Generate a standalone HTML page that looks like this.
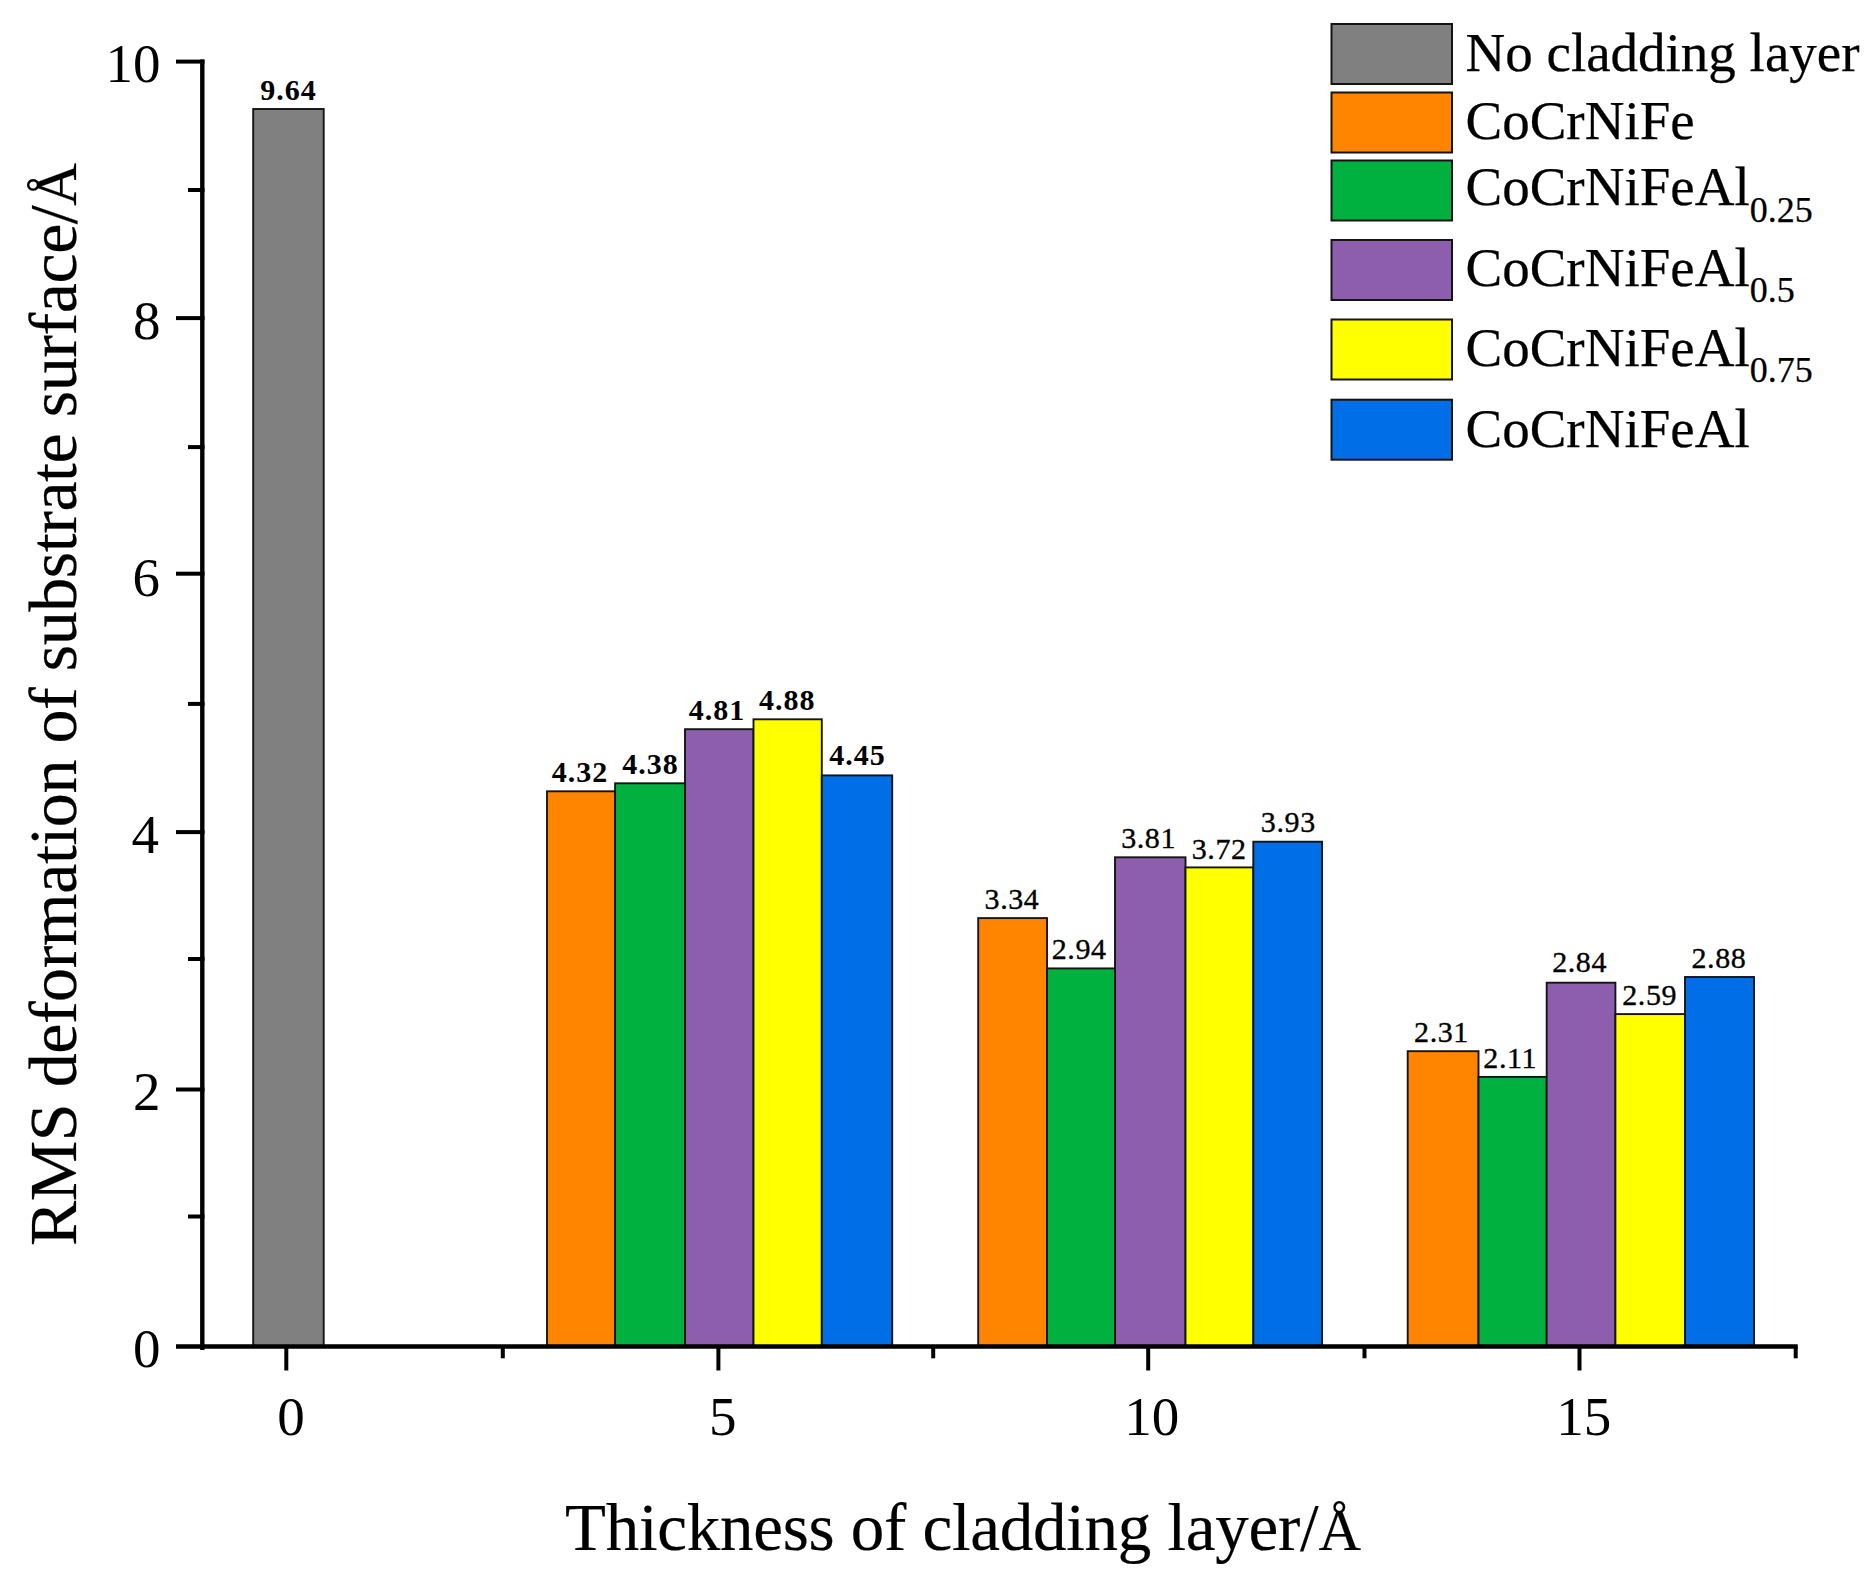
<!DOCTYPE html>
<html lang="en"><head><meta charset="utf-8"><title>RMS deformation of substrate surface</title>
<style>html,body{margin:0;padding:0;background:#fff;}body{width:1875px;height:1595px;overflow:hidden;}svg{display:block;}text{font-family:"Liberation Serif", serif;fill:#000;}</style>
</head><body>
<svg width="1875" height="1595" viewBox="0 0 1875 1595">
<rect x="0" y="0" width="1875" height="1595" fill="#fff"/>
<g stroke="#141414" stroke-width="1.9">
<rect x="253.2" y="109.0" width="70.5" height="1237.3" fill="#808080"/>
<rect x="547.0" y="791.3" width="68.1" height="555.0" fill="#ff8500"/>
<rect x="615.1" y="783.3" width="69.9" height="563.0" fill="#00b140"/>
<rect x="685.0" y="729.2" width="68.5" height="617.1" fill="#8e5eae"/>
<rect x="753.5" y="719.3" width="68.3" height="627.0" fill="#ffff00"/>
<rect x="821.8" y="775.4" width="70.4" height="570.9" fill="#006ee6"/>
<rect x="978.2" y="918.1" width="68.8" height="428.2" fill="#ff8500"/>
<rect x="1047.0" y="968.4" width="68.0" height="377.9" fill="#00b140"/>
<rect x="1115.0" y="857.3" width="70.5" height="489.0" fill="#8e5eae"/>
<rect x="1185.5" y="867.4" width="67.8" height="478.9" fill="#ffff00"/>
<rect x="1253.3" y="841.7" width="68.8" height="504.6" fill="#006ee6"/>
<rect x="1407.7" y="1051.2" width="70.8" height="295.1" fill="#ff8500"/>
<rect x="1478.5" y="1076.9" width="68.2" height="269.4" fill="#00b140"/>
<rect x="1546.7" y="982.7" width="68.7" height="363.6" fill="#8e5eae"/>
<rect x="1615.4" y="1014.1" width="69.6" height="332.2" fill="#ffff00"/>
<rect x="1685.0" y="977.0" width="69.0" height="369.3" fill="#006ee6"/>
</g>
<g font-size="30" text-anchor="middle">
<text x="288.4" y="99.9" font-weight="bold" letter-spacing="1">9.64</text>
<text x="580.0" y="781.9" font-weight="bold" letter-spacing="1">4.32</text>
<text x="650.6" y="774.0" font-weight="bold" letter-spacing="1">4.38</text>
<text x="717.0" y="719.7" font-weight="bold" letter-spacing="1">4.81</text>
<text x="787.2" y="709.5" font-weight="bold" letter-spacing="1">4.88</text>
<text x="857.5" y="765.3" font-weight="bold" letter-spacing="1">4.45</text>
<text x="1012.0" y="908.6" stroke="#000" stroke-width="0.35" letter-spacing="0.6">3.34</text>
<text x="1079.2" y="959.2" stroke="#000" stroke-width="0.35" letter-spacing="0.6">2.94</text>
<text x="1148.6" y="848.4" stroke="#000" stroke-width="0.35" letter-spacing="0.6">3.81</text>
<text x="1219.2" y="858.9" stroke="#000" stroke-width="0.35" letter-spacing="0.6">3.72</text>
<text x="1288.3" y="832.2" stroke="#000" stroke-width="0.35" letter-spacing="0.6">3.93</text>
<text x="1441.5" y="1041.5" stroke="#000" stroke-width="0.35" letter-spacing="0.6">2.31</text>
<text x="1510.2" y="1067.8" stroke="#000" stroke-width="0.35" letter-spacing="0.6">2.11</text>
<text x="1579.6" y="971.5" stroke="#000" stroke-width="0.35" letter-spacing="0.6">2.84</text>
<text x="1649.7" y="1005.4" stroke="#000" stroke-width="0.35" letter-spacing="0.6">2.59</text>
<text x="1718.9" y="967.5" stroke="#000" stroke-width="0.35" letter-spacing="0.6">2.88</text>
</g>
<g stroke="#000" stroke-width="4.4" fill="none">
<line x1="202.3" y1="59.4" x2="202.3" y2="1350"/>
<line x1="176" y1="1346.5" x2="1797.7" y2="1346.5"/>
</g>
<g stroke="#000" stroke-width="4" fill="none">
<line x1="176" y1="61.6" x2="204.5" y2="61.6"/>
<line x1="176" y1="318.1" x2="204.5" y2="318.1"/>
<line x1="176" y1="573.7" x2="204.5" y2="573.7"/>
<line x1="176" y1="832.1" x2="204.5" y2="832.1"/>
<line x1="176" y1="1089.5" x2="204.5" y2="1089.5"/>
<line x1="188" y1="190.0" x2="204.5" y2="190.0"/>
<line x1="188" y1="447.1" x2="204.5" y2="447.1"/>
<line x1="188" y1="703.9" x2="204.5" y2="703.9"/>
<line x1="188" y1="959.0" x2="204.5" y2="959.0"/>
<line x1="188" y1="1216.5" x2="204.5" y2="1216.5"/>
<line x1="286.3" y1="1346.3" x2="286.3" y2="1370.5"/>
<line x1="718.4" y1="1346.3" x2="718.4" y2="1370.5"/>
<line x1="1148.2" y1="1346.3" x2="1148.2" y2="1370.5"/>
<line x1="1579.5" y1="1346.3" x2="1579.5" y2="1370.5"/>
<line x1="502.8" y1="1346.3" x2="502.8" y2="1358.3"/>
<line x1="933.2" y1="1346.3" x2="933.2" y2="1358.3"/>
<line x1="1364.5" y1="1346.3" x2="1364.5" y2="1358.3"/>
<line x1="1795.7" y1="1346.3" x2="1795.7" y2="1358.3"/>
</g>
<g font-size="55" text-anchor="end">
<text x="160.5" y="82.1">10</text>
<text x="160.5" y="339.0">8</text>
<text x="160.0" y="595.9">6</text>
<text x="159.0" y="852.8">4</text>
<text x="160.5" y="1109.8">2</text>
<text x="160.5" y="1366.7">0</text>
</g>
<g font-size="55" text-anchor="middle">
<text x="291.0" y="1435.3">0</text>
<text x="722.7" y="1435.3">5</text>
<text x="1151.8" y="1435.3">10</text>
<text x="1583.7" y="1435.3">15</text>
</g>
<text x="963" y="1549.7" font-size="67" text-anchor="middle" textLength="796" lengthAdjust="spacing" stroke="#000" stroke-width="0.2">Thickness of cladding layer/<tspan font-size="59">Å</tspan></text>
<text transform="translate(76.3,704.6) rotate(-90)" font-size="68" text-anchor="middle" textLength="1083" lengthAdjust="spacing" stroke="#000" stroke-width="0.2">RMS deformation of substrate surface/<tspan font-size="59">Å</tspan></text>
<g stroke="#141414" stroke-width="2">
<rect x="1331.5" y="24.0" width="120.5" height="60" fill="#808080"/>
<rect x="1331.5" y="92.5" width="120.5" height="60" fill="#ff8500"/>
<rect x="1331.5" y="160.5" width="120.5" height="60" fill="#00b140"/>
<rect x="1331.5" y="240.0" width="120.5" height="60" fill="#8e5eae"/>
<rect x="1331.5" y="319.5" width="120.5" height="60" fill="#ffff00"/>
<rect x="1331.5" y="399.7" width="120.5" height="60" fill="#006ee6"/>
</g>
<g font-size="55" stroke="#000" stroke-width="0.25">
<text x="1465.5" y="71.0">No cladding layer</text>
<text x="1465.5" y="139.0">CoCrNiFe</text>
<text x="1465.5" y="205.3">CoCrNiFeAl<tspan font-size="36" dy="16.2">0.25</tspan></text>
<text x="1465.5" y="285.6">CoCrNiFeAl<tspan font-size="36" dy="16.2">0.5</tspan></text>
<text x="1465.5" y="365.5">CoCrNiFeAl<tspan font-size="36" dy="16.2">0.75</tspan></text>
<text x="1465.5" y="446.5">CoCrNiFeAl</text>
</g>
</svg>
</body></html>
